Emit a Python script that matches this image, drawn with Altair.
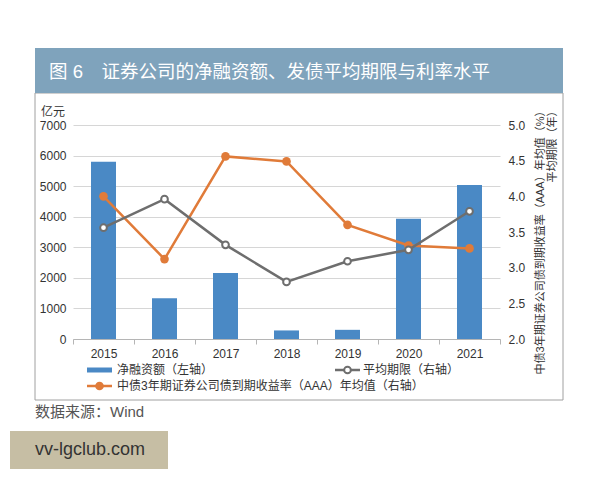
import altair as alt
import pandas as pd

years = ["2015", "2016", "2017", "2018", "2019", "2020", "2021"]
net_financing = [5800, 1330, 2160, 280, 300, 3935, 5040]
avg_term = [3.56, 3.96, 3.32, 2.80, 3.09, 3.25, 3.79]
yield_aaa = [4.00, 3.12, 4.56, 4.49, 3.60, 3.31, 3.27]

left_ticks = [0, 1000, 2000, 3000, 4000, 5000, 6000, 7000]
right_ticks = [2.0, 2.5, 3.0, 3.5, 4.0, 4.5, 5.0]

title_text = "图 6\u3000证券公司的净融资额、发债平均期限与利率水平"
left_unit = "亿元"
right_title = ["中债3年期证券公司债到期收益率（AAA）年均值（%）", "平均期限（年）"]
legend_bar = "净融资额（左轴）"
legend_term = "平均期限（右轴）"
legend_yield = "中债3年期证券公司债到期收益率（AAA）年均值（右轴）"
source_text = "数据来源：Wind"
watermark = "vv-lgclub.com"

FONT = "Liberation Sans, Noto Sans CJK SC, sans-serif"
BLUE = "#4a89c5"
ORANGE = "#e07b39"
GRAY = "#6e6e6e"

df = pd.DataFrame({"year": years, "net": net_financing, "term": avg_term, "yld": yield_aaa})
deco = pd.DataFrame({"d": [0]})

xenc = alt.X(
    "year:N",
    sort=years,
    scale=alt.Scale(paddingInner=0, paddingOuter=0),
    axis=alt.Axis(
        title=None, labelAngle=0, labelFontSize=12, labelColor="#333", labelFont=FONT,
        domainColor="#b5b5b5", tickColor="#b5b5b5", tickBand="extent", tickSize=5,
        labelPadding=4,
    ),
)

bars = alt.Chart(df).mark_bar(size=25, color=BLUE).encode(
    x=xenc,
    y=alt.Y(
        "net:Q",
        scale=alt.Scale(domain=[0, 7000], nice=False),
        axis=alt.Axis(
            title=None, values=left_ticks, format="d", grid=True, gridColor="#d6d6d6",
            domain=False, ticks=False, labelPadding=7, labelFontSize=12, labelColor="#333",
            labelFont=FONT, labelOverlap=False,
        ),
    ),
)

right_axis = alt.Axis(
    orient="right", values=right_ticks, format=".1f", grid=False, domain=False, ticks=False,
    labelPadding=8, labelFontSize=12, labelColor="#333", labelFont=FONT, labelOverlap=False,
    title=right_title, titleFont=FONT, titleFontSize=11, titleFontWeight="normal",
    titleColor="#333", titleAngle=270, titleAlign="right", titleBaseline="top",
    titleX=34, titleY=-20, titleLineHeight=12.5,
)
right_scale = alt.Scale(domain=[2, 5], nice=False)
y_yld = alt.Y("yld:Q", scale=right_scale, axis=right_axis)
y_term = alt.Y("term:Q", scale=right_scale, axis=right_axis)

orange_line = alt.Chart(df).mark_line(color=ORANGE, strokeWidth=2.5).encode(x=xenc, y=y_yld)
orange_pts = alt.Chart(df).mark_circle(color=ORANGE, size=75, opacity=1).encode(x=xenc, y=y_yld)
gray_line = alt.Chart(df).mark_line(color=GRAY, strokeWidth=2.5).encode(x=xenc, y=y_term)
gray_pts = alt.Chart(df).mark_point(
    filled=True, fill="white", stroke=GRAY, strokeWidth=2, size=45, opacity=1
).encode(x=xenc, y=y_term)

lines = alt.layer(orange_line, orange_pts, gray_line, gray_pts)


def rect(x, x2, y, y2, **kw):
    return alt.Chart(deco).mark_rect(**kw).encode(
        x=alt.value(x), x2=alt.value(x2), y=alt.value(y), y2=alt.value(y2)
    )


def text(x, y, s, **kw):
    base = dict(font=FONT, baseline="middle", align="left")
    base.update(kw)
    return alt.Chart(deco).mark_text(**base).encode(
        x=alt.value(x), y=alt.value(y), text=alt.value(s)
    )


def rule(x, x2, y, color, width):
    return alt.Chart(deco).mark_rule(color=color, strokeWidth=width).encode(
        x=alt.value(x), x2=alt.value(x2), y=alt.value(y)
    )


box = rect(-38, 490, -32, 275, fill="white", fillOpacity=0, stroke="#a0a0a0", strokeWidth=1)
title_bar = rect(-38, 490, -77, -32, color="#7fa3bc")
title = text(-24, -53, title_text, fontSize=18.5, color="white")
unit = text(-8, -13, left_unit, fontSize=12, color="#333", align="right")

leg_bar = rect(14, 39, 242.5, 247.5, color=BLUE)
leg_bar_t = text(44, 245, legend_bar, fontSize=12, color="#333")
leg_term = rule(262, 287, 245, GRAY, 2.5)
leg_term_p = alt.Chart(deco).mark_point(
    filled=True, fill="white", stroke=GRAY, strokeWidth=2, size=45, opacity=1
).encode(x=alt.value(274.5), y=alt.value(245))
leg_term_t = text(290, 245, legend_term, fontSize=12, color="#333")
leg_y = rule(14, 39, 261, ORANGE, 2.5)
leg_y_p = alt.Chart(deco).mark_circle(color=ORANGE, size=75, opacity=1).encode(
    x=alt.value(26.5), y=alt.value(261)
)
leg_y_t = text(44, 261, legend_yield, fontSize=12, color="#333")

source = text(-38, 287, source_text, fontSize=15, color="#555")
wm_box = rect(-63, 95, 306, 344, color="#c6bea4")
wm_text = text(-38, 325, watermark, fontSize=18, color="#333")

chart = alt.layer(
    box, bars, lines,
    title_bar, title, unit,
    leg_bar, leg_bar_t, leg_term, leg_term_p, leg_term_t, leg_y, leg_y_p, leg_y_t,
    source, wm_box, wm_text,
).resolve_scale(y="independent").properties(
    width=427, height=214,
    autosize=alt.AutoSizeParams(type="none"),
    padding={"left": 65, "top": 117, "right": 90, "bottom": 130},
).configure_view(stroke=None)

chart.save("out.html", embed_options={"renderer": "svg", "actions": False})
